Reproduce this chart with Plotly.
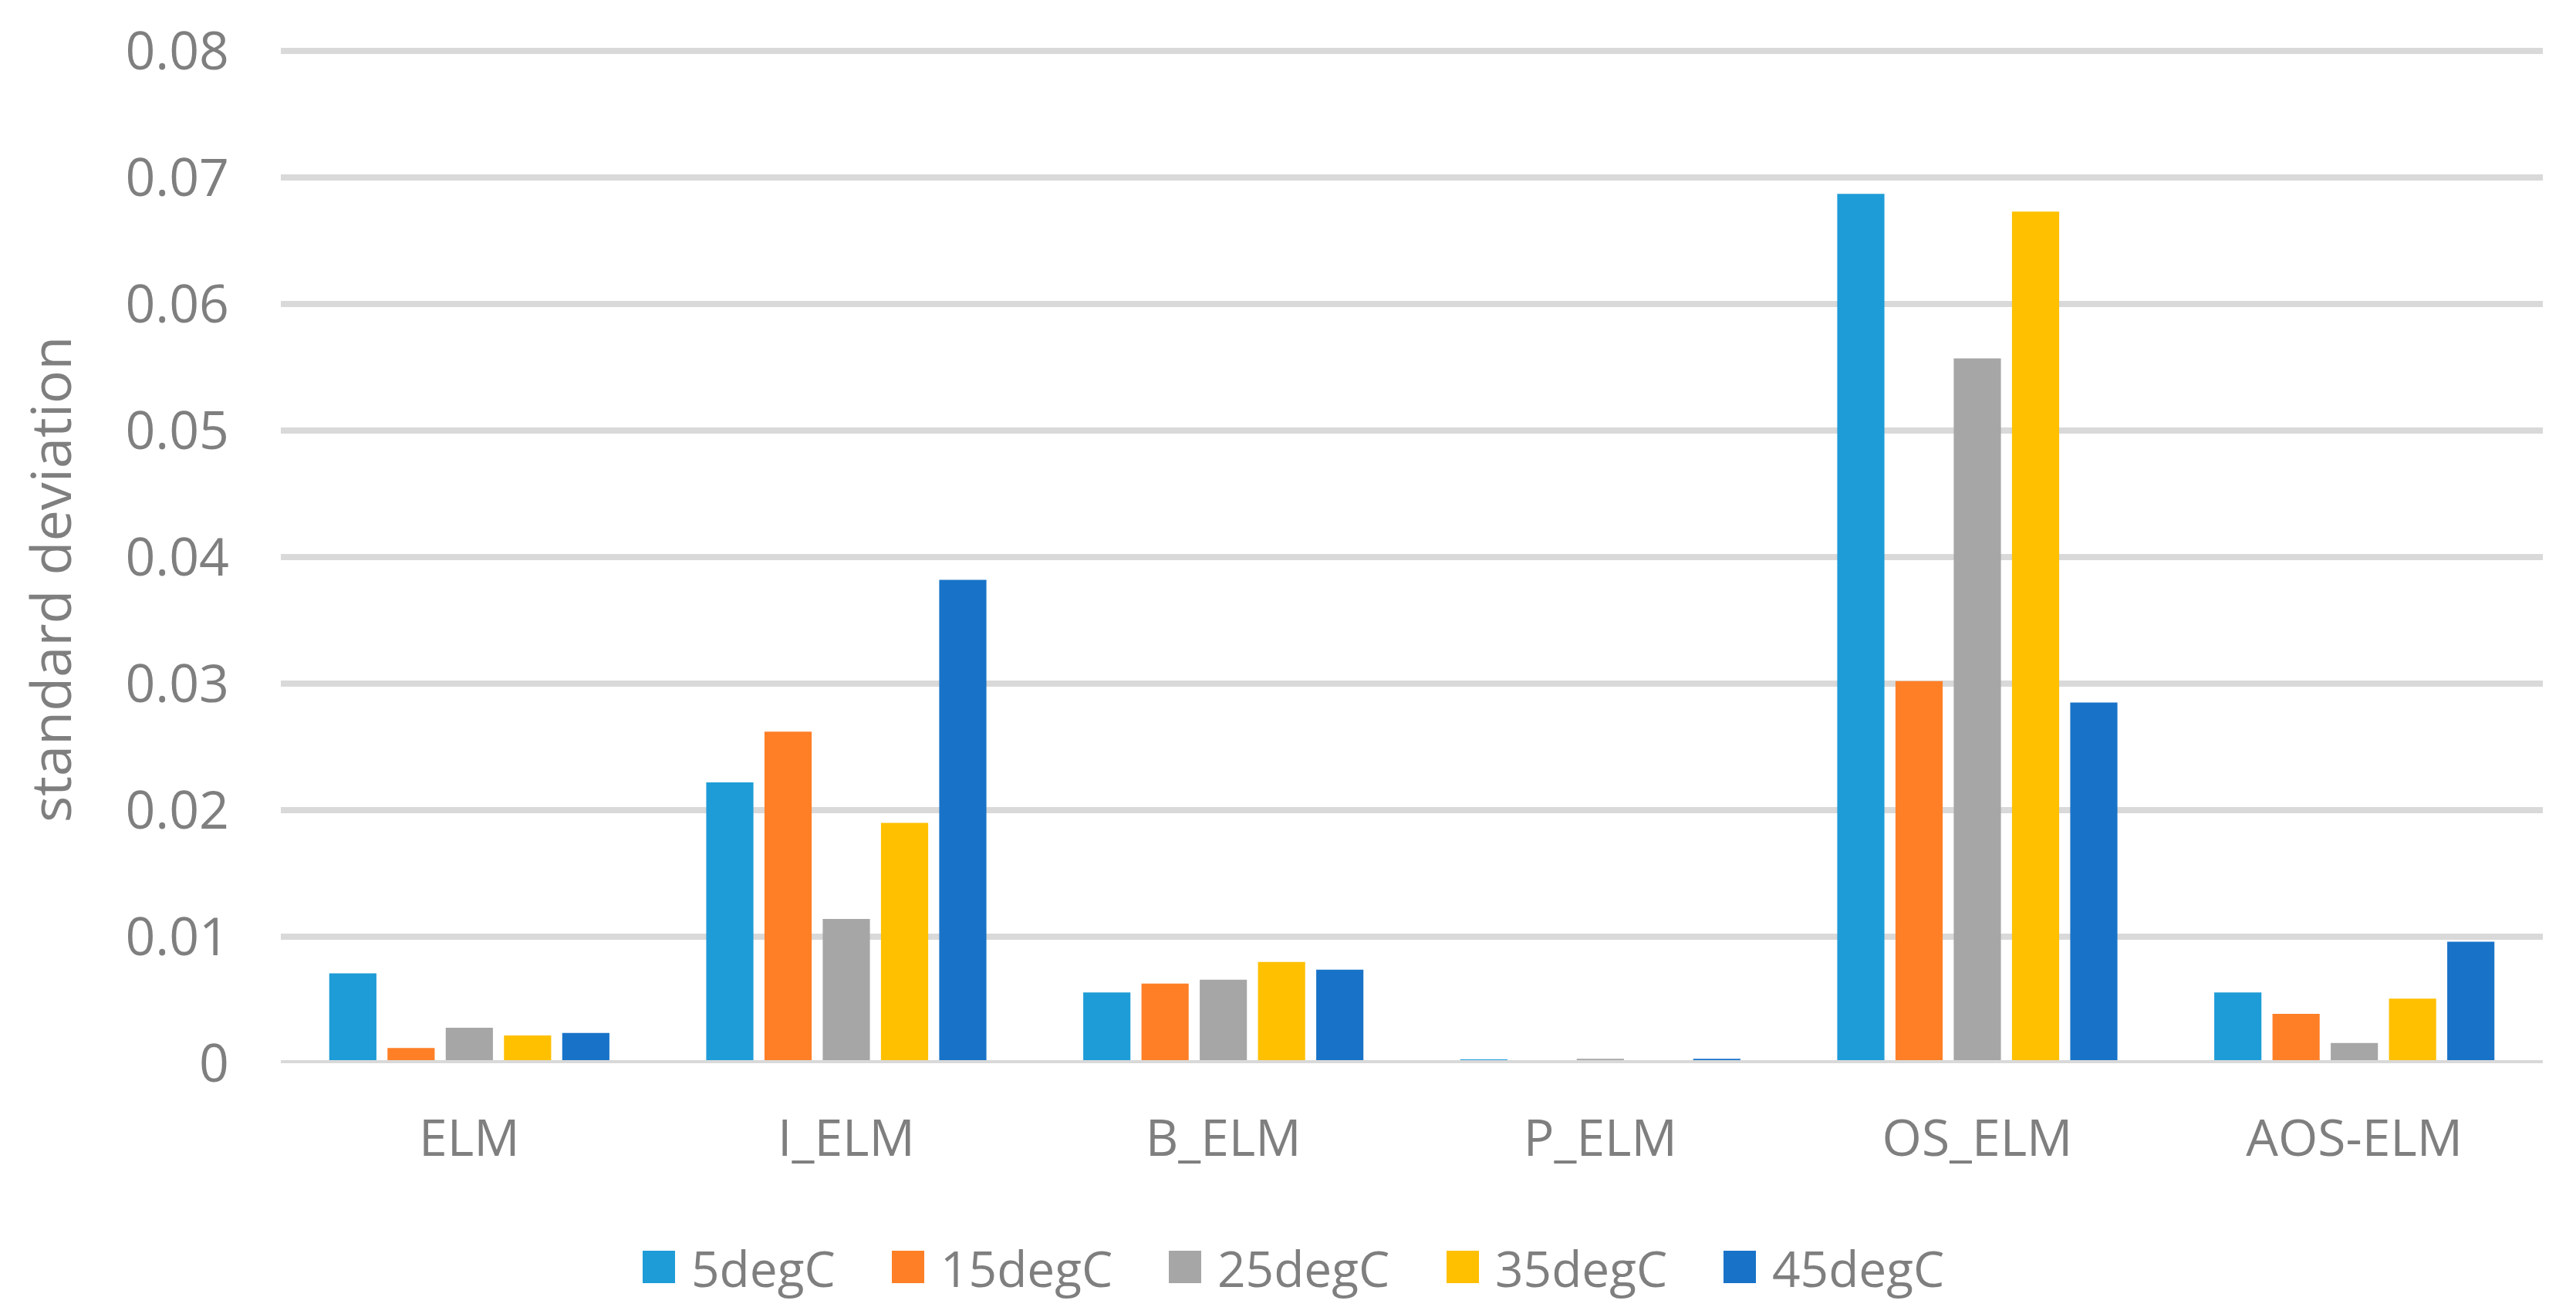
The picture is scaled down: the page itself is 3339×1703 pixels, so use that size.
import plotly.graph_objects as go

categories = ["ELM", "I_ELM", "B_ELM", "P_ELM", "OS_ELM", "AOS-ELM"]
series_names = ["5degC", "15degC", "25degC", "35degC", "45degC"]
s5 = [0.0071, 0.0222, 0.0056, 0.0003, 0.0687, 0.0056]
s15 = [0.0012, 0.0262, 0.0063, 0.0001, 0.0302, 0.0039]
s25 = [0.0028, 0.0114, 0.0066, 0.00035, 0.0557, 0.0016]
s35 = [0.0022, 0.0190, 0.0080, 0.0001, 0.0673, 0.0051]
s45 = [0.0024, 0.0382, 0.0074, 0.00035, 0.0285, 0.0096]
series_values = [s5, s15, s25, s35, s45]
colors = ["#1E9CD7", "#FF7F27", "#A6A6A6", "#FFC000", "#1873C8"]
y_ticks = [0, 0.01, 0.02, 0.03, 0.04, 0.05, 0.06, 0.07, 0.08]
y_title = "standard deviation"

W, H = 3339, 1703
Y_TOP_PX = 66          # pixel row of the 0.08 gridline
PX_PER_UNIT = 1312 / 0.08
ML, MR, MT, MB = 364, 43, 58, 325
PW = W - ML - MR
PH = H - MT - MB
y_max = 0.08 + (Y_TOP_PX - MT) / PX_PER_UNIT
GRAY = "#7F7F7F"
GRID = "#D9D9D9"
FONT = "Open Sans"


def px_x(px):
    return (px - ML) / PW


def px_y(py):
    return (H - MB - py) / PH


fig = go.Figure()
for name, vals, col in zip(series_names, series_values, colors):
    fig.add_trace(go.Bar(x=categories, y=vals, name=name, marker=dict(color=col, line=dict(width=0)),
                         showlegend=False))

# baseline (axis) drawn above bars
shapes = [dict(type="line", xref="paper", yref="y", x0=0, x1=1, y0=0, y1=0,
               line=dict(color=GRID, width=8), layer="above")]
annotations = [dict(text=y_title, textangle=-90, xref="paper", yref="paper",
                    x=px_x(64), y=px_y(751), showarrow=False,
                    xanchor="center", yanchor="middle",
                    font=dict(family=FONT, size=72, color=GRAY))]

# custom legend (large square swatches)
legend_left = [833, 1156, 1515, 1875, 2234]
sw = 42
cy = 1642
for name, col, lx in zip(series_names, colors, legend_left):
    shapes.append(dict(type="rect", xref="paper", yref="paper",
                       x0=px_x(lx), x1=px_x(lx + sw), y0=px_y(cy + sw / 2), y1=px_y(cy - sw / 2),
                       fillcolor=col, line=dict(width=0)))
    annotations.append(dict(text=name, xref="paper", yref="paper", x=px_x(lx + sw + 19), y=px_y(cy + 2),
                            showarrow=False, xanchor="left", yanchor="middle",
                            font=dict(family=FONT, size=64, color=GRAY)))

fig.update_layout(
    width=W, height=H,
    margin=dict(l=ML, r=MR, t=MT, b=MB, autoexpand=False),
    paper_bgcolor="white", plot_bgcolor="white",
    barmode="group", bargap=0.2275, bargroupgap=0.19,
    font=dict(family=FONT, color=GRAY),
    shapes=shapes, annotations=annotations,
    showlegend=False,
)
fig.update_xaxes(showgrid=False, zeroline=False, showline=False, ticks="",
                 tickfont=dict(family=FONT, size=66, color=GRAY), ticklabelstandoff=53)
fig.update_yaxes(range=[0, y_max], tickvals=y_ticks, ticktext=[f"{v:g}" for v in y_ticks],
                 showgrid=True, gridcolor=GRID, gridwidth=8, zeroline=False, showline=False,
                 ticks="", tickfont=dict(family=FONT, size=68, color=GRAY), ticklabelstandoff=66)

fig.write_html("out.html", config={"displayModeBar": False},
               post_script="document.body.style.margin='0';document.body.style.overflow='hidden';")
